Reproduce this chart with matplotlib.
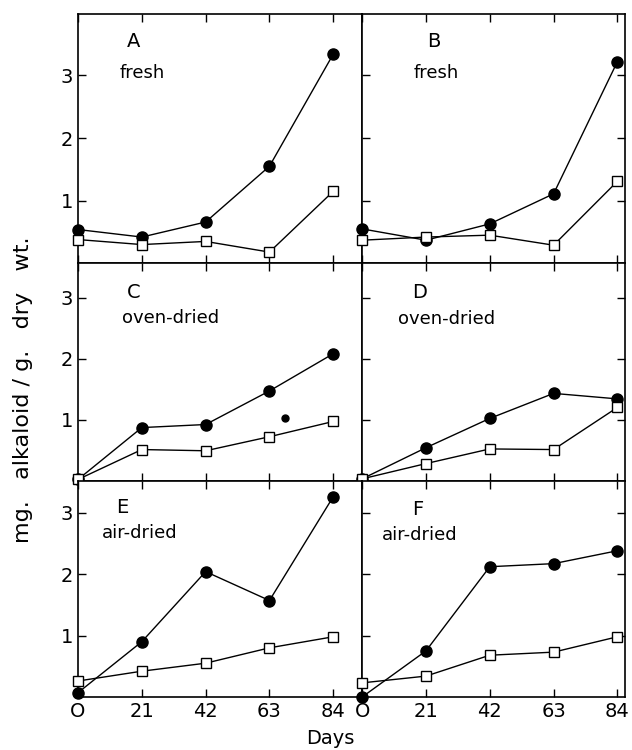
import matplotlib.pyplot as plt

days = [0, 21, 42, 63, 84]

# filled circles / open squares, one pair per panel
a_filled = [0.54, 0.42, 0.66, 1.55, 3.34]
a_open = [0.38, 0.30, 0.35, 0.18, 1.15]
b_filled = [0.55, 0.37, 0.63, 1.11, 3.22]
b_open = [0.37, 0.42, 0.45, 0.29, 1.31]
c_filled = [0.02, 0.87, 0.92, 1.47, 2.08]
c_open = [0.02, 0.51, 0.49, 0.72, 0.97]
c_extra_x = [68]
c_extra_y = [1.03]
d_filled = [0.03, 0.54, 1.02, 1.43, 1.34]
d_open = [0.03, 0.28, 0.52, 0.51, 1.20]
e_filled = [0.07, 0.90, 2.04, 1.57, 3.26]
e_open = [0.26, 0.42, 0.55, 0.80, 0.98]
f_filled = [0.00, 0.75, 2.12, 2.17, 2.38]
f_open = [0.23, 0.34, 0.68, 0.73, 0.98]

letters = ["A", "B", "C", "D", "E", "F"]
treatments = ["fresh", "fresh", "oven-dried", "oven-dried", "air-dried", "air-dried"]
filled = [a_filled, b_filled, c_filled, d_filled, e_filled, f_filled]
opened = [a_open, b_open, c_open, d_open, e_open, f_open]

ytop = [3.98, 3.56, 3.52]
xright = [93.5, 86.5]
# label positions (days, value): letter, treatment
letter_pos = [(16, 3.54), (21.4, 3.54), (16, 3.08), (16.4, 3.08), (12.7, 3.08), (16.4, 3.05)]
treat_pos = [(13.8, 3.04), (17, 3.04), (14.5, 2.67), (11.8, 2.65), (7.8, 2.67), (6.6, 2.64)]

plt.rcParams['font.family'] = 'DejaVu Sans'
fig = plt.figure(figsize=(6.32, 7.5), dpi=100)
gs = fig.add_gridspec(3, 2, width_ratios=xright, height_ratios=[249, 217, 216],
                      left=78/632, right=625/632, top=1-14/750, bottom=1-697/750,
                      wspace=0, hspace=0)

for i in range(6):
    r, c = divmod(i, 2)
    ax = fig.add_subplot(gs[r, c])
    ax.plot(days, filled[i], '-o', color='black', lw=1.0, ms=8,
            mfc='black', clip_on=False, zorder=3)
    ax.plot(days, opened[i], '-s', color='black', lw=1.0, ms=6.5,
            mfc='white', mew=1.0, clip_on=False, zorder=4)
    if i == 2:
        ax.plot(c_extra_x, c_extra_y, 'o', color='black', ms=5)
    ax.set_xlim(0, xright[c])
    ax.set_ylim(0, ytop[r])
    ax.set_xticks(days)
    ax.set_yticks([1, 2, 3])
    ax.tick_params(direction='in', length=6, width=1, top=True, bottom=True,
                   left=True, right=(c == 1), labelsize=14)
    if r < 2:
        ax.set_xticklabels([])
    else:
        ax.set_xticklabels(['O', '21', '42', '63', '84'])
    if c == 1:
        ax.set_yticklabels([])
    for s in ax.spines.values():
        s.set_linewidth(1.2)
    lx, ly = letter_pos[i]
    tx, ty = treat_pos[i]
    ax.text(lx, ly, letters[i], fontsize=14, va='center', ha='left')
    ax.text(tx, ty, treatments[i], fontsize=13, va='center', ha='left')

fig.text(23/632, 1-390/750, 'mg.   alkaloid / g.   dry   wt.', rotation=90,
         fontsize=16, ha='center', va='center')
fig.text(330/632, 1-738/750, 'Days', fontsize=14, ha='center', va='center')

fig.savefig('out.png', dpi=100)
